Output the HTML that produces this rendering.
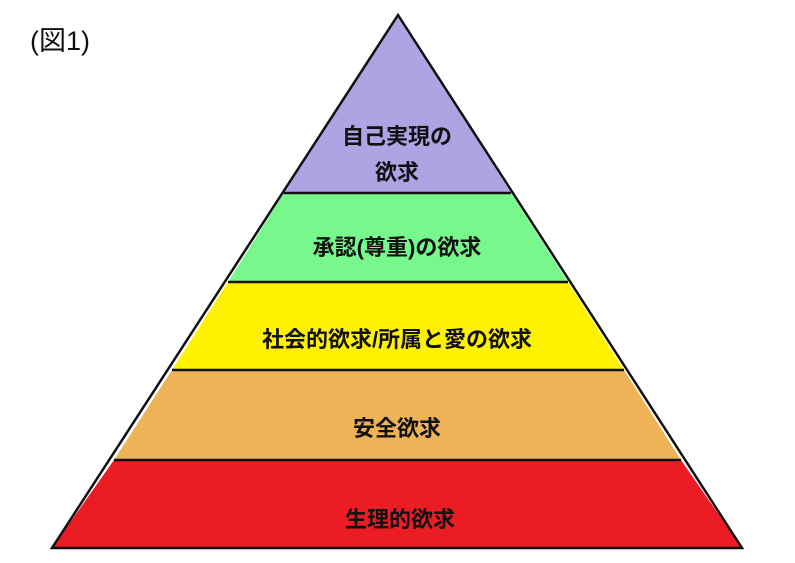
<!DOCTYPE html>
<html><head><meta charset="utf-8"><style>
html,body{margin:0;padding:0;background:#fff;width:795px;height:563px;overflow:hidden}
svg text{font-family:"Liberation Sans","Noto Sans CJK JP",sans-serif;font-weight:bold;fill:#111}
</style></head><body>
<svg width="795" height="563" viewBox="0 0 795 563" xmlns="http://www.w3.org/2000/svg">
<text x="30" y="50" font-size="27" style="font-weight:normal">(図1)</text>
<polygon points="398,15 511,193 284,193" fill="#ada4e4"/>
<polygon points="284,193 511,193 568,282 228,282" fill="#78f88c"/>
<polygon points="228,282 568,282 624,370 172,370" fill="#fff200"/>
<polygon points="172,370 624,370 681,460 114,460" fill="#efb357"/>
<polygon points="114,460 681,460 742,548 52,548" fill="#ec1c24"/>
<g stroke="#111" stroke-width="2.5" fill="none">
<polygon points="398,15 742,548 52,548"/>
<line x1="284" y1="193" x2="511" y2="193"/>
<line x1="228" y1="282" x2="568" y2="282"/>
<line x1="172" y1="370" x2="624" y2="370"/>
<line x1="114" y1="460" x2="681" y2="460"/>
</g>
<g font-size="22" text-anchor="middle">
<text x="397" y="144">自己実現の</text>
<text x="397" y="180">欲求</text>
<text x="397" y="255">承認(尊重)の欲求</text>
<text x="397" y="347">社会的欲求/所属と愛の欲求</text>
<text x="397" y="436">安全欲求</text>
<text x="400" y="527">生理的欲求</text>
</g>
</svg>
</body></html>
